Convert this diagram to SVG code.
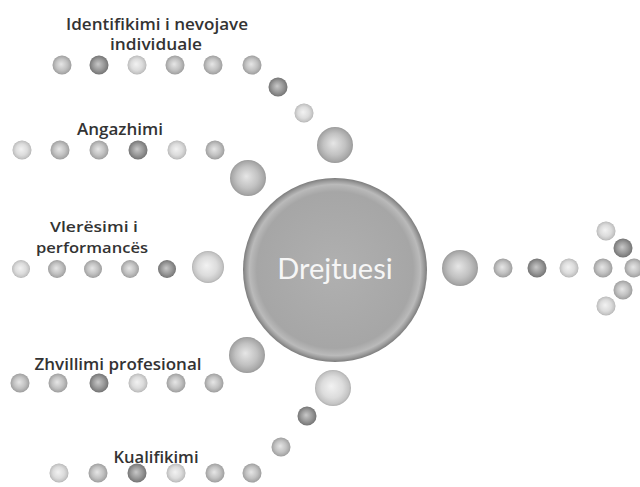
<svg xmlns="http://www.w3.org/2000/svg" width="640" height="487" viewBox="0 0 640 487">
<defs>
<radialGradient id="gL" cx="50%" cy="50%" r="50%" fx="45%" fy="45%">
<stop offset="0" stop-color="#f2f2f2"/><stop offset="0.6" stop-color="#dcdcdc"/><stop offset="0.9" stop-color="#c4c4c4"/><stop offset="1" stop-color="#b0b0b0"/>
</radialGradient>
<radialGradient id="gM" cx="50%" cy="50%" r="50%" fx="45%" fy="45%">
<stop offset="0" stop-color="#e6e6e6"/><stop offset="0.6" stop-color="#c2c2c2"/><stop offset="0.9" stop-color="#a8a8a8"/><stop offset="1" stop-color="#999"/>
</radialGradient>
<radialGradient id="gD" cx="50%" cy="50%" r="50%" fx="45%" fy="45%">
<stop offset="0" stop-color="#c8c8c8"/><stop offset="0.6" stop-color="#999"/><stop offset="0.9" stop-color="#7e7e7e"/><stop offset="1" stop-color="#6e6e6e"/>
</radialGradient>
<radialGradient id="gC" cx="50%" cy="50%" r="50%">
<stop offset="0" stop-color="#b0b0b0"/><stop offset="0.85" stop-color="#a6a6a6"/><stop offset="0.93" stop-color="#bababa"/><stop offset="0.97" stop-color="#999"/><stop offset="1" stop-color="#7c7c7c"/>
</radialGradient>
</defs>
<style>
.L{fill:url(#gL)} .M{fill:url(#gM)} .D{fill:url(#gD)}
.lbl{font-family:"Open Sans",Lato,"Liberation Sans",sans-serif;font-size:16px;font-weight:600;fill:#333;text-anchor:middle}
.sm{font-size:15px}
.ctr{font-family:Lato,"Open Sans","Liberation Sans",sans-serif;font-size:29px;fill:#f6f6f6;text-anchor:middle}
</style>
<rect width="640" height="487" fill="#fff"/>
<g id="node-identifikimi">
<text class="lbl" x="157" y="30" textLength="182" lengthAdjust="spacingAndGlyphs">Identifikimi i nevojave</text>
<text class="lbl" x="156" y="50" textLength="92" lengthAdjust="spacingAndGlyphs">individuale</text>
<circle class="M" cx="62" cy="65" r="9.5"/><circle class="D" cx="99" cy="65" r="9.5"/><circle class="L" cx="137" cy="65" r="9.5"/><circle class="M" cx="175" cy="65" r="9.5"/><circle class="M" cx="213" cy="65" r="9.5"/><circle class="M" cx="252" cy="65" r="9.5"/>
</g>
<g id="node-angazhimi">
<text class="lbl" x="120" y="135" textLength="86" lengthAdjust="spacingAndGlyphs">Angazhimi</text>
<circle class="L" cx="22" cy="150" r="9.5"/><circle class="M" cx="60" cy="150" r="9.5"/><circle class="M" cx="99" cy="150" r="9.5"/><circle class="D" cx="138" cy="150" r="9.5"/><circle class="L" cx="177" cy="150" r="9.5"/><circle class="M" cx="215" cy="150" r="9.5"/>
</g>
<g id="node-vleresimi">
<text class="lbl sm" x="94" y="232" textLength="88" lengthAdjust="spacingAndGlyphs">Vlerësimi i</text>
<text class="lbl sm" x="92" y="253" textLength="112" lengthAdjust="spacingAndGlyphs">performancës</text>
<circle class="L" cx="21" cy="269" r="9"/><circle class="M" cx="57" cy="269" r="9"/><circle class="M" cx="93" cy="269" r="9"/><circle class="M" cx="130" cy="269" r="9"/><circle class="D" cx="167" cy="269" r="9"/>
</g>
<g id="node-zhvillimi">
<text class="lbl" x="118" y="370" textLength="167" lengthAdjust="spacingAndGlyphs">Zhvillimi profesional</text>
<circle class="M" cx="20" cy="383" r="9.5"/><circle class="M" cx="58" cy="383" r="9.5"/><circle class="D" cx="99" cy="383" r="9.5"/><circle class="L" cx="138" cy="383" r="9.5"/><circle class="M" cx="176" cy="383" r="9.5"/><circle class="M" cx="214" cy="383" r="9.5"/>
</g>
<g id="node-kualifikimi">
<text class="lbl" x="156" y="463" textLength="85" lengthAdjust="spacingAndGlyphs">Kualifikimi</text>
<circle class="L" cx="59" cy="473" r="9.5"/><circle class="M" cx="98" cy="473" r="9.5"/><circle class="D" cx="137" cy="473" r="9.5"/><circle class="L" cx="176" cy="473" r="9.5"/><circle class="M" cx="215" cy="473" r="9.5"/><circle class="M" cx="252" cy="473" r="9.5"/>
</g>
<g id="node-drejtuesi">
<circle cx="335" cy="270" r="92" fill="url(#gC)"/>
<text class="ctr" x="335" y="279">Drejtuesi</text>
</g>
<g id="connectors">
<circle class="D" cx="278" cy="87" r="9.5"/><circle class="L" cx="304" cy="113" r="9.5"/><circle class="M" cx="335" cy="145" r="18"/>
<circle class="M" cx="248" cy="178" r="18"/>
<circle class="L" cx="208" cy="267" r="16"/>
<circle class="M" cx="247" cy="355" r="18"/>
<circle class="L" cx="333" cy="388" r="18"/><circle class="D" cx="307" cy="416" r="9.5"/><circle class="M" cx="281" cy="447" r="9.5"/>
<circle class="M" cx="460" cy="268" r="18"/>
<circle class="M" cx="503" cy="268" r="9.5"/><circle class="D" cx="537" cy="268" r="9.5"/><circle class="L" cx="569" cy="268" r="9.5"/><circle class="M" cx="603" cy="268" r="9.5"/><circle class="M" cx="634" cy="268" r="9.5"/>
<circle class="L" cx="606" cy="231" r="9.5"/><circle class="D" cx="623" cy="248" r="9.5"/><circle class="M" cx="623" cy="290" r="9.5"/><circle class="L" cx="606" cy="306" r="9.5"/>
</g>
</svg>
